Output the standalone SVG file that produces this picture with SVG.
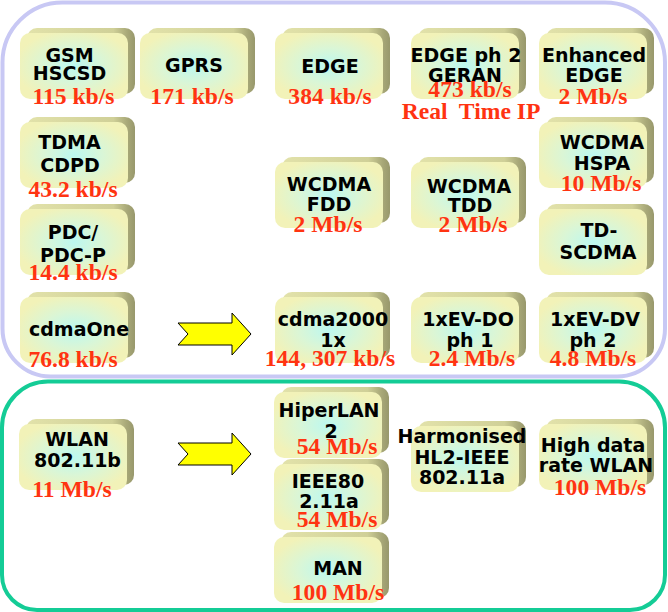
<svg xmlns="http://www.w3.org/2000/svg" width="668" height="612" viewBox="0 0 668 612">
<defs>
<radialGradient id="faceG" cx="50%" cy="50%" r="55%">
<stop offset="0" stop-color="#bcf8f0"/>
<stop offset="0.5" stop-color="#daf6d6"/>
<stop offset="1" stop-color="#f2f2b8"/>
</radialGradient>
<linearGradient id="backG" x1="0" y1="0" x2="1" y2="0">
<stop offset="0" stop-color="#e2e2aa"/>
<stop offset="0.8" stop-color="#d0d098"/>
<stop offset="0.93" stop-color="#a8a878"/>
<stop offset="1" stop-color="#98986c"/>
</linearGradient>
<style>
.back{fill:url(#backG)}
.face{fill:url(#faceG)}
.lbl{font-family:"DejaVu Sans",Verdana,sans-serif;font-weight:bold;font-size:19px;fill:#000;text-anchor:middle}
.rate{font-family:"Liberation Serif","Times New Roman",serif;font-weight:bold;font-size:23.6px;fill:#ff3311;text-anchor:middle}
.arrow{fill:#ffff00;stroke:#000;stroke-width:1;stroke-linejoin:miter}
</style>
</defs>
<rect width="668" height="612" fill="#fff"/>
<g id="region-cellular">
<path d="M63,2.5 H605 A60,60 0 0 1 665,62.5 V328.5 A48,48 0 0 1 617,376.5 H50.5 A48,48 0 0 1 2.5,328.5 V62.5 A60,60 0 0 1 63,2.5 Z" fill="none" stroke="#c8c8f4" stroke-width="4"/>
</g>
<g id="region-wlan">
<path d="M48,381.5 H619 A46,46 0 0 1 665,427.5 V575 A35,35 0 0 1 630,610 H37 A35,35 0 0 1 2,575 V427.5 A46,46 0 0 1 48,381.5 Z" fill="none" stroke="#14cc96" stroke-width="4"/>
</g>
<g id="connectors">
<polygon class="arrow" points="178,323 232,323 232,313 251,334 232,355 232,345 178,345 188,334"/>
<polygon class="arrow" points="178,443 232,443 232,433 251,454 232,475 232,465 178,465 188,454"/>
</g>
<g id="n-gsm">
<rect class="back" x="27" y="28" width="108" height="66" rx="10"/>
<rect class="face" x="20" y="33" width="108" height="66" rx="10"/>
<text class="lbl" x="69.5" y="62">GSM</text>
<text class="lbl" x="69.5" y="80">HSCSD</text>
<text class="rate" x="73.5" y="104">115 kb/s</text>
</g>
<g id="n-gprs">
<rect class="back" x="147" y="28" width="108" height="66" rx="10"/>
<rect class="face" x="140" y="33" width="108" height="66" rx="10"/>
<text class="lbl" x="194" y="72">GPRS</text>
<text class="rate" x="192" y="104">171 kb/s</text>
</g>
<g id="n-edge">
<rect class="back" x="282" y="28" width="108" height="66" rx="10"/>
<rect class="face" x="275" y="33" width="108" height="66" rx="10"/>
<text class="lbl" x="330" y="73">EDGE</text>
<text class="rate" x="330" y="104">384 kb/s</text>
</g>
<g id="n-edge-ph2">
<rect class="back" x="418" y="28" width="108" height="66" rx="10"/>
<rect class="face" x="411" y="33" width="108" height="66" rx="10"/>
<text class="lbl" x="466" y="62">EDGE ph 2</text>
<text class="lbl" x="465" y="82">GERAN</text>
<text class="rate" x="470" y="97">473 kb/s</text>
<text class="rate" x="471" y="119" xml:space="preserve">Real  Time IP</text>
</g>
<g id="n-enhanced-edge">
<rect class="back" x="546" y="28" width="108" height="66" rx="10"/>
<rect class="face" x="539" y="33" width="108" height="66" rx="10"/>
<text class="lbl" x="594" y="62">Enhanced</text>
<text class="lbl" x="594" y="82">EDGE</text>
<text class="rate" x="593" y="104">2 Mb/s</text>
</g>
<g id="n-tdma">
<rect class="back" x="27" y="117" width="108" height="66" rx="10"/>
<rect class="face" x="20" y="122" width="108" height="66" rx="10"/>
<text class="lbl" x="69.5" y="149">TDMA</text>
<text class="lbl" x="70" y="172">CDPD</text>
<text class="rate" x="73" y="197">43.2 kb/s</text>
</g>
<g id="n-wcdma-hspa">
<rect class="back" x="546" y="117" width="108" height="66" rx="10"/>
<rect class="face" x="539" y="122" width="108" height="66" rx="10"/>
<text class="lbl" x="602" y="149">WCDMA</text>
<text class="lbl" x="602" y="170">HSPA</text>
<text class="rate" x="601" y="191">10 Mb/s</text>
</g>
<g id="n-wcdma-fdd">
<rect class="back" x="282" y="157" width="108" height="66" rx="10"/>
<rect class="face" x="275" y="162" width="108" height="66" rx="10"/>
<text class="lbl" x="329" y="190.5">WCDMA</text>
<text class="lbl" x="329" y="210.5">FDD</text>
<text class="rate" x="328" y="232">2 Mb/s</text>
</g>
<g id="n-wcdma-tdd">
<rect class="back" x="418" y="157" width="108" height="66" rx="10"/>
<rect class="face" x="411" y="162" width="108" height="66" rx="10"/>
<text class="lbl" x="469" y="192.5">WCDMA</text>
<text class="lbl" x="470" y="211.5">TDD</text>
<text class="rate" x="473" y="232">2 Mb/s</text>
</g>
<g id="n-pdc">
<rect class="back" x="27" y="204" width="108" height="66" rx="10"/>
<rect class="face" x="20" y="209" width="108" height="66" rx="10"/>
<text class="lbl" x="73" y="239">PDC/</text>
<text class="lbl" x="73" y="262">PDC-P</text>
<text class="rate" x="73" y="280">14.4 kb/s</text>
</g>
<g id="n-td-scdma">
<rect class="back" x="546" y="204" width="108" height="66" rx="10"/>
<rect class="face" x="539" y="209" width="108" height="66" rx="10"/>
<text class="lbl" x="599" y="237">TD-</text>
<text class="lbl" x="598" y="259">SCDMA</text>
</g>
<g id="n-cdmaone">
<rect class="back" x="27" y="292" width="108" height="66" rx="10"/>
<rect class="face" x="20" y="297" width="108" height="66" rx="10"/>
<text class="lbl" x="79" y="336">cdmaOne</text>
<text class="rate" x="73" y="367">76.8 kb/s</text>
</g>
<g id="n-cdma2000">
<rect class="back" x="282" y="292" width="108" height="66" rx="10"/>
<rect class="face" x="275" y="297" width="108" height="66" rx="10"/>
<text class="lbl" x="333" y="326">cdma2000</text>
<text class="lbl" x="333" y="347">1x</text>
<text class="rate" x="330" y="366">144, 307 kb/s</text>
</g>
<g id="n-1xev-do">
<rect class="back" x="418" y="292" width="108" height="66" rx="10"/>
<rect class="face" x="411" y="297" width="108" height="66" rx="10"/>
<text class="lbl" x="468" y="326">1xEV-DO</text>
<text class="lbl" x="470" y="347">ph 1</text>
<text class="rate" x="472" y="366">2.4 Mb/s</text>
</g>
<g id="n-1xev-dv">
<rect class="back" x="546" y="292" width="108" height="66" rx="10"/>
<rect class="face" x="539" y="297" width="108" height="66" rx="10"/>
<text class="lbl" x="595" y="326">1xEV-DV</text>
<text class="lbl" x="593" y="347">ph 2</text>
<text class="rate" x="593" y="366">4.8 Mb/s</text>
</g>
<g id="n-wlan">
<rect class="back" x="26" y="419" width="108" height="66" rx="10"/>
<rect class="face" x="19" y="424" width="108" height="66" rx="10"/>
<text class="lbl" x="77" y="446">WLAN</text>
<text class="lbl" x="77.5" y="467">802.11b</text>
<text class="rate" x="72" y="497">11 Mb/s</text>
</g>
<g id="n-hiperlan2">
<rect class="back" x="281" y="387" width="108" height="66" rx="10"/>
<rect class="face" x="274" y="392" width="108" height="66" rx="10"/>
<text class="lbl" x="329" y="417">HiperLAN</text>
<text class="lbl" x="331" y="438">2</text>
<text class="rate" x="337" y="454">54 Mb/s</text>
</g>
<g id="n-ieee80211a">
<rect class="back" x="281" y="459" width="108" height="66" rx="10"/>
<rect class="face" x="274" y="464" width="108" height="66" rx="10"/>
<text class="lbl" x="328" y="488">IEEE80</text>
<text class="lbl" x="329" y="508">2.11a</text>
<text class="rate" x="337" y="527">54 Mb/s</text>
</g>
<g id="n-man">
<rect class="back" x="281" y="532" width="108" height="66" rx="10"/>
<rect class="face" x="274" y="537" width="108" height="66" rx="10"/>
<text class="lbl" x="338" y="575">MAN</text>
<text class="rate" x="338" y="600">100 Mb/s</text>
</g>
<g id="n-harmonised">
<rect class="back" x="418" y="421" width="108" height="66" rx="10"/>
<rect class="face" x="411" y="426" width="108" height="66" rx="10"/>
<text class="lbl" x="462" y="443">Harmonised</text>
<text class="lbl" x="462" y="464">HL2-IEEE</text>
<text class="lbl" x="462" y="484">802.11a</text>
</g>
<g id="n-high-data-wlan">
<rect class="back" x="546" y="419" width="108" height="66" rx="10"/>
<rect class="face" x="539" y="424" width="108" height="66" rx="10"/>
<text class="lbl" x="593" y="452">High data</text>
<text class="lbl" x="596" y="472">rate WLAN</text>
<text class="rate" x="600" y="495">100 Mb/s</text>
</g>
</svg>
